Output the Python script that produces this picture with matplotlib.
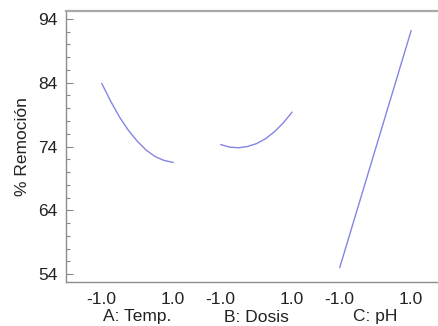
import matplotlib
matplotlib.use("Agg")
import matplotlib.pyplot as plt
import matplotlib.transforms as mtransforms
import numpy as np

plt.rcParams['font.family'] = ['Liberation Sans', 'DejaVu Sans']

# Data (coded levels vs % Remoción)
coded = [-1.0, -0.75, -0.5, -0.25, 0.0, 0.25, 0.5, 0.75, 1.0]
temp_vals = [83.9, 81.1, 78.6, 76.5, 74.8, 73.4, 72.4, 71.8, 71.5]
dosis_vals = [74.3, 73.9, 73.8, 74.0, 74.45, 75.2, 76.3, 77.7, 79.4]
ph_coded = [-1.0, 0.0, 1.0]
ph_vals = [55.0, 73.6, 92.2]

factor_labels = ["A: Temp.", "B: Dosis", "C: pH"]
tick_text = ["-1.0", "1.0"]
y_ticks = [54, 64, 74, 84, 94]

panel_offset = 3.33
line_color = "#8484e6"

fig = plt.figure(figsize=(4.38, 3.26), dpi=100)
ax = fig.add_axes([66/438, 44/326, (438-66)/438, (282-11)/326])

series = [(coded, temp_vals), (coded, dosis_vals), (ph_coded, ph_vals)]
xt, xl = [], []
for i, (xs, ys) in enumerate(series):
    xs = np.asarray(xs) + i * panel_offset
    ax.plot(xs, ys, color=line_color, lw=1.0, solid_capstyle='round')
    xt += [-1 + i * panel_offset, 1 + i * panel_offset]
    xl += tick_text

ax.set_xlim(-2.0, 8.41)
ax.set_ylim(52.75, 95.25)
ax.set_xticks(xt)
ax.set_xticklabels(xl, fontsize=12.5, color="#222222")
ax.tick_params(axis='x', length=0, pad=7)
ax.set_yticks(y_ticks)
ax.set_yticklabels([str(v) for v in y_ticks], fontsize=12.5, color="#222222")
ax.set_yticks(np.arange(54, 95, 2), minor=True)
ax.tick_params(axis='y', which='major', direction='in', length=5, width=0.8, color="#888888", pad=6)
ax.tick_params(axis='y', which='minor', direction='in', length=3, width=0.8, color="#888888")

trans = mtransforms.blended_transform_factory(ax.transData, fig.transFigure)
for i, lab in enumerate(factor_labels):
    ax.text(i * panel_offset, 9/326, lab, transform=trans, ha='center', va='center',
            fontsize=12.5, color="#222222")

ax.set_ylabel("% Remoción", fontsize=12.5, color="#222222", labelpad=6)

ax.spines['right'].set_visible(False)
ax.spines['left'].set_color("#8c8c8c")
ax.spines['left'].set_linewidth(1.0)
ax.spines['bottom'].set_color("#8c8c8c")
ax.spines['bottom'].set_linewidth(1.0)
ax.spines['top'].set_color("#a8a8a8")
ax.spines['top'].set_linewidth(1.6)

fig.savefig("out.png", dpi=100)
